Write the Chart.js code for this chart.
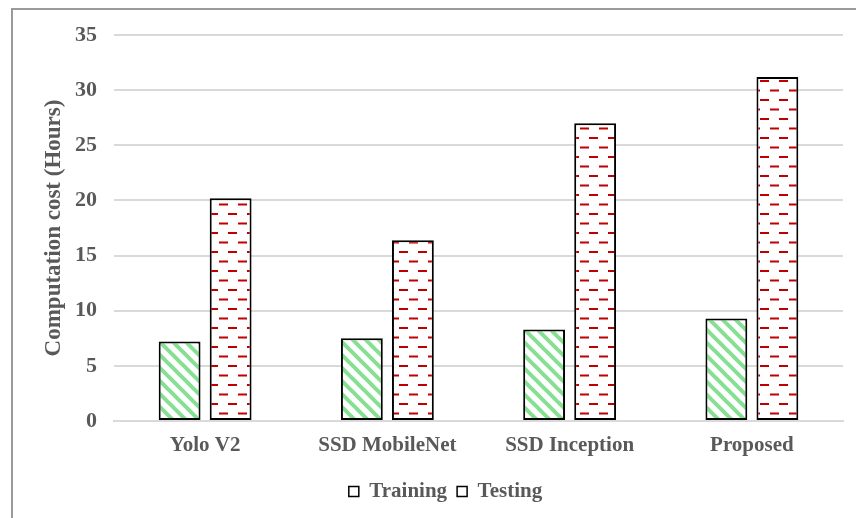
<!DOCTYPE html>
<html>
<head>
<meta charset="utf-8">
<script src="https://cdn.jsdelivr.net/npm/chart.js@4/dist/chart.umd.min.js"></script>
<style>
  html, body { margin: 0; padding: 0; background: #ffffff; }
  #wrap { width: 856px; height: 518px; position: relative; }
</style>
</head>
<body>
<div id="wrap"><canvas id="c" width="856" height="518"></canvas></div>
<script>
// Chart data
const categories = ['Yolo V2', 'SSD MobileNet', 'SSD Inception', 'Proposed'];
const trainingHours = [7.2, 7.5, 8.3, 9.3];
const testingHours = [20.2, 16.4, 27.0, 31.2];
const seriesNames = ['Training', 'Testing'];
const yTicks = [0, 5, 10, 15, 20, 25, 30, 35];

const TEXT = '#595959';
const FONT = '"Liberation Serif", "Times New Roman", serif';

// Light green downward-diagonal stripes
function stripePattern() {
  const s = 13;
  const cv = document.createElement('canvas');
  cv.width = s; cv.height = s;
  const g = cv.getContext('2d');
  g.fillStyle = '#ffffff';
  g.fillRect(0, 0, s, s);
  g.strokeStyle = '#86df93';
  g.lineWidth = 4;
  g.lineCap = 'square';
  [-s, 0, s].forEach(dx => {
    g.beginPath();
    g.moveTo(dx, 0);
    g.lineTo(dx + s, s);
    g.stroke();
  });
  return g.createPattern(cv, 'repeat');
}

// Red staggered dashes
function dashPattern() {
  const w = 19, h = 19;
  const cv = document.createElement('canvas');
  cv.width = w; cv.height = h;
  const g = cv.getContext('2d');
  g.fillStyle = '#ffffff';
  g.fillRect(0, 0, w, h);
  g.fillStyle = '#c00000';
  g.fillRect(0, 4, 9, 2);
  g.fillRect(10, 13.5, 9, 2);
  return g.createPattern(cv, 'repeat');
}

// Thin grey frame on the left and top edges
const framePlugin = {
  id: 'frame',
  beforeDraw(chart) {
    const ctx = chart.ctx;
    ctx.save();
    ctx.fillStyle = '#ffffff';
    ctx.fillRect(0, 0, chart.width, chart.height);
    ctx.strokeStyle = '#9a9a9a';
    ctx.lineWidth = 2;
    ctx.beginPath();
    ctx.moveTo(12, chart.height);
    ctx.lineTo(12, 9);
    ctx.lineTo(chart.width, 9);
    ctx.stroke();
    ctx.restore();
  }
};

new Chart(document.getElementById('c'), {
  type: 'bar',
  data: {
    labels: categories,
    datasets: [
      {
        label: seriesNames[0],
        data: trainingHours,
        backgroundColor: stripePattern(),
        borderColor: '#000000',
        borderWidth: 2,
        borderSkipped: false,
        categoryPercentage: 0.56,
        barPercentage: 0.82
      },
      {
        label: seriesNames[1],
        data: testingHours,
        backgroundColor: dashPattern(),
        borderColor: '#000000',
        borderWidth: 2,
        borderSkipped: false,
        categoryPercentage: 0.56,
        barPercentage: 0.82
      }
    ]
  },
  options: {
    responsive: false,
    animation: false,
    devicePixelRatio: 1,
    layout: { padding: { left: 48, right: 13, top: 35, bottom: 6 } },
    scales: {
      x: {
        grid: { display: false, drawTicks: false },
        border: { display: true, color: '#d9d9d9', width: 2 },
        ticks: {
          color: TEXT,
          font: { family: FONT, size: 21, weight: 'bold' },
          padding: 12,
          maxRotation: 0
        },
        afterFit(scale) { scale.height = 50; }
      },
      y: {
        min: 0,
        max: 35,
        afterBuildTicks(scale) { scale.ticks = yTicks.map(v => ({ value: v })); },
        grid: { color: '#d9d9d9', lineWidth: 2, drawTicks: false },
        border: { display: false },
        ticks: {
          color: TEXT,
          font: { family: FONT, size: 22, weight: 'bold' },
          padding: 17
        },
        title: {
          display: true,
          text: 'Computation cost (Hours)',
          color: TEXT,
          font: { family: FONT, size: 23, weight: 'bold' },
          padding: { top: -8, bottom: 0 }
        },
        afterFit(scale) { scale.width = 66; }
      }
    },
    plugins: {
      legend: {
        position: 'bottom',
        labels: {
          color: TEXT,
          font: { family: FONT, size: 21, weight: 'bold' },
          boxWidth: 10,
          boxHeight: 10,
          padding: 10,
          generateLabels(chart) {
            return chart.data.datasets.map((ds, i) => ({
              text: ds.label,
              fillStyle: '#ffffff',
              strokeStyle: '#000000',
              lineWidth: 1.5,
              fontColor: TEXT,
              datasetIndex: i,
              hidden: false
            }));
          }
        }
      },
      tooltip: { enabled: false }
    }
  },
  plugins: [framePlugin]
});
</script>
</body>
</html>
